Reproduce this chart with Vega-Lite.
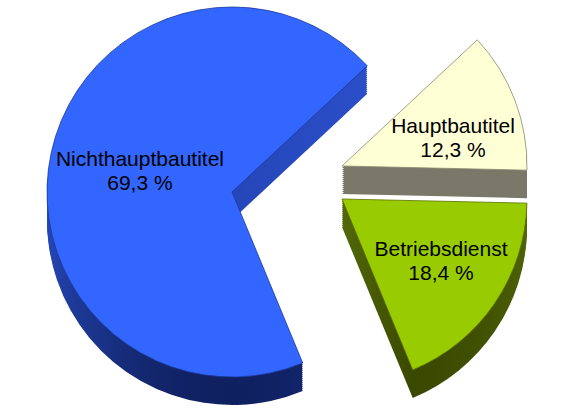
{
  "$schema": "https://vega.github.io/schema/vega-lite/v6.json",
  "width": 561,
  "height": 409,
  "autosize": {"type": "none"},
  "padding": 0,
  "background": "white",
  "config": {
    "view": {"stroke": null},
    "style": {
      "beschriftung": {"font": "Liberation Sans", "fontSize": 21, "lineHeight": 24, "lineBreak": "\n", "align": "center", "baseline": "middle", "fill": "#000000"}
    }
  },
  "data": {
    "values": [
      {"teil": "Hauptbautitel", "anteil": 12.3, "ordnung": 1, "beschriftung": "Hauptbautitel\n12,3 %"},
      {"teil": "Betriebsdienst", "anteil": 18.4, "ordnung": 2, "beschriftung": "Betriebsdienst\n18,4 %"},
      {"teil": "Nichthauptbautitel", "anteil": 69.3, "ordnung": 3, "beschriftung": "Nichthauptbautitel\n69,3 %"}
    ]
  },
  "transform": [
    {"stack": "anteil", "groupby": [], "sort": [{"field": "ordnung", "order": "ascending"}], "as": ["a0", "a1"]}
  ],
  "layer": [
    {
      "transform": [{"filter": "datum.teil === 'Nichthauptbautitel'"}],
      "encoding": {
        "theta": {"field": "a0", "type": "quantitative", "scale": {"domain": [0, 100], "range": [0.8203, 7.1035]}},
        "theta2": {"field": "a1"}
      },
      "layer": [
        {"mark": {"type": "arc", "radius": 185, "xOffset": -48.5, "yOffset": 15.5, "fill": {"gradient": "linear", "x1": 0, "y1": 0, "x2": 0, "y2": 1, "stops": [{"offset": 0, "color": "#2d52d0"}, {"offset": 0.6, "color": "#2444b4"}, {"offset": 0.85, "color": "#1a3388"}, {"offset": 1, "color": "#0f2060"}]}}},
        {"mark": {"type": "arc", "radius": 185, "xOffset": -48.5, "yOffset": 13.5, "fill": {"gradient": "linear", "x1": 0, "y1": 0, "x2": 0, "y2": 1, "stops": [{"offset": 0, "color": "#2d52d0"}, {"offset": 0.6, "color": "#2444b4"}, {"offset": 0.85, "color": "#1a3388"}, {"offset": 1, "color": "#0f2060"}]}}},
        {"mark": {"type": "arc", "radius": 185, "xOffset": -48.5, "yOffset": 11.5, "fill": {"gradient": "linear", "x1": 0, "y1": 0, "x2": 0, "y2": 1, "stops": [{"offset": 0, "color": "#2d52d0"}, {"offset": 0.6, "color": "#2444b4"}, {"offset": 0.85, "color": "#1a3388"}, {"offset": 1, "color": "#0f2060"}]}}},
        {"mark": {"type": "arc", "radius": 185, "xOffset": -48.5, "yOffset": 9.5, "fill": {"gradient": "linear", "x1": 0, "y1": 0, "x2": 0, "y2": 1, "stops": [{"offset": 0, "color": "#2d52d0"}, {"offset": 0.6, "color": "#2444b4"}, {"offset": 0.85, "color": "#1a3388"}, {"offset": 1, "color": "#0f2060"}]}}},
        {"mark": {"type": "arc", "radius": 185, "xOffset": -48.5, "yOffset": 7.5, "fill": {"gradient": "linear", "x1": 0, "y1": 0, "x2": 0, "y2": 1, "stops": [{"offset": 0, "color": "#2d52d0"}, {"offset": 0.6, "color": "#2444b4"}, {"offset": 0.85, "color": "#1a3388"}, {"offset": 1, "color": "#0f2060"}]}}},
        {"mark": {"type": "arc", "radius": 185, "xOffset": -48.5, "yOffset": 5.5, "fill": {"gradient": "linear", "x1": 0, "y1": 0, "x2": 0, "y2": 1, "stops": [{"offset": 0, "color": "#2d52d0"}, {"offset": 0.6, "color": "#2444b4"}, {"offset": 0.85, "color": "#1a3388"}, {"offset": 1, "color": "#0f2060"}]}}},
        {"mark": {"type": "arc", "radius": 185, "xOffset": -48.5, "yOffset": 3.5, "fill": {"gradient": "linear", "x1": 0, "y1": 0, "x2": 0, "y2": 1, "stops": [{"offset": 0, "color": "#2d52d0"}, {"offset": 0.6, "color": "#2444b4"}, {"offset": 0.85, "color": "#1a3388"}, {"offset": 1, "color": "#0f2060"}]}}},
        {"mark": {"type": "arc", "radius": 185, "xOffset": -48.5, "yOffset": 1.5, "fill": {"gradient": "linear", "x1": 0, "y1": 0, "x2": 0, "y2": 1, "stops": [{"offset": 0, "color": "#2d52d0"}, {"offset": 0.6, "color": "#2444b4"}, {"offset": 0.85, "color": "#1a3388"}, {"offset": 1, "color": "#0f2060"}]}}},
        {"mark": {"type": "arc", "radius": 185, "xOffset": -48.5, "yOffset": -0.5, "fill": {"gradient": "linear", "x1": 0, "y1": 0, "x2": 0, "y2": 1, "stops": [{"offset": 0, "color": "#2d52d0"}, {"offset": 0.6, "color": "#2444b4"}, {"offset": 0.85, "color": "#1a3388"}, {"offset": 1, "color": "#0f2060"}]}}},
        {"mark": {"type": "arc", "radius": 185, "xOffset": -48.5, "yOffset": -2.5, "fill": {"gradient": "linear", "x1": 0, "y1": 0, "x2": 0, "y2": 1, "stops": [{"offset": 0, "color": "#2d52d0"}, {"offset": 0.6, "color": "#2444b4"}, {"offset": 0.85, "color": "#1a3388"}, {"offset": 1, "color": "#0f2060"}]}}},
        {"mark": {"type": "arc", "radius": 185, "xOffset": -48.5, "yOffset": -4.5, "fill": {"gradient": "linear", "x1": 0, "y1": 0, "x2": 0, "y2": 1, "stops": [{"offset": 0, "color": "#2d52d0"}, {"offset": 0.6, "color": "#2444b4"}, {"offset": 0.85, "color": "#1a3388"}, {"offset": 1, "color": "#0f2060"}]}}},
        {"mark": {"type": "arc", "radius": 185, "xOffset": -48.5, "yOffset": -6.5, "fill": {"gradient": "linear", "x1": 0, "y1": 0, "x2": 0, "y2": 1, "stops": [{"offset": 0, "color": "#2d52d0"}, {"offset": 0.6, "color": "#2444b4"}, {"offset": 0.85, "color": "#1a3388"}, {"offset": 1, "color": "#0f2060"}]}}},
        {"mark": {"type": "arc", "radius": 185, "xOffset": -48.5, "yOffset": -8.5, "fill": {"gradient": "linear", "x1": 0, "y1": 0, "x2": 0, "y2": 1, "stops": [{"offset": 0, "color": "#2d52d0"}, {"offset": 0.6, "color": "#2444b4"}, {"offset": 0.85, "color": "#1a3388"}, {"offset": 1, "color": "#0f2060"}]}}},
        {"mark": {"type": "arc", "radius": 185, "xOffset": -48.5, "yOffset": -10.5, "fill": {"gradient": "linear", "x1": 0, "y1": 0, "x2": 0, "y2": 1, "stops": [{"offset": 0, "color": "#2d52d0"}, {"offset": 0.6, "color": "#2444b4"}, {"offset": 0.85, "color": "#1a3388"}, {"offset": 1, "color": "#0f2060"}]}}},
        {"mark": {"type": "arc", "radius": 185, "xOffset": -48.5, "yOffset": -12.5, "fill": "#3366ff", "stroke": "#1d3a9c", "strokeWidth": 0.8}}
      ]
    },
    {
      "transform": [{"filter": "datum.teil === 'Hauptbautitel'"}],
      "encoding": {
        "theta": {"field": "a0", "type": "quantitative", "scale": {"domain": [0, 100], "range": [0.8203, 7.1035]}},
        "theta2": {"field": "a1"}
      },
      "layer": [
        {"mark": {"type": "arc", "radius": 185, "xOffset": 61.5, "yOffset": -10.5, "fill": "#7a7869"}},
        {"mark": {"type": "arc", "radius": 185, "xOffset": 61.5, "yOffset": -12.5, "fill": "#7a7869"}},
        {"mark": {"type": "arc", "radius": 185, "xOffset": 61.5, "yOffset": -14.5, "fill": "#7a7869"}},
        {"mark": {"type": "arc", "radius": 185, "xOffset": 61.5, "yOffset": -16.5, "fill": "#7a7869"}},
        {"mark": {"type": "arc", "radius": 185, "xOffset": 61.5, "yOffset": -18.5, "fill": "#7a7869"}},
        {"mark": {"type": "arc", "radius": 185, "xOffset": 61.5, "yOffset": -20.5, "fill": "#7a7869"}},
        {"mark": {"type": "arc", "radius": 185, "xOffset": 61.5, "yOffset": -22.5, "fill": "#7a7869"}},
        {"mark": {"type": "arc", "radius": 185, "xOffset": 61.5, "yOffset": -24.5, "fill": "#7a7869"}},
        {"mark": {"type": "arc", "radius": 185, "xOffset": 61.5, "yOffset": -26.5, "fill": "#7a7869"}},
        {"mark": {"type": "arc", "radius": 185, "xOffset": 61.5, "yOffset": -28.5, "fill": "#7a7869"}},
        {"mark": {"type": "arc", "radius": 185, "xOffset": 61.5, "yOffset": -30.5, "fill": "#7a7869"}},
        {"mark": {"type": "arc", "radius": 185, "xOffset": 61.5, "yOffset": -32.5, "fill": "#7a7869"}},
        {"mark": {"type": "arc", "radius": 185, "xOffset": 61.5, "yOffset": -34.5, "fill": "#7a7869"}},
        {"mark": {"type": "arc", "radius": 185, "xOffset": 61.5, "yOffset": -36.5, "fill": "#7a7869"}},
        {"mark": {"type": "arc", "radius": 185, "xOffset": 61.5, "yOffset": -38.5, "fill": "#ffffd6", "stroke": "#8a8870", "strokeWidth": 0.8}}
      ]
    },
    {
      "transform": [{"filter": "datum.teil === 'Betriebsdienst'"}],
      "encoding": {
        "theta": {"field": "a0", "type": "quantitative", "scale": {"domain": [0, 100], "range": [0.8203, 7.1035]}},
        "theta2": {"field": "a1"}
      },
      "layer": [
        {"mark": {"type": "arc", "radius": 185, "xOffset": 61.5, "yOffset": 22.5, "fill": {"gradient": "linear", "x1": 0, "y1": 0, "x2": 0, "y2": 1, "stops": [{"offset": 0, "color": "#52680a"}, {"offset": 1, "color": "#3a4800"}]}}},
        {"mark": {"type": "arc", "radius": 185, "xOffset": 61.5, "yOffset": 20.5, "fill": {"gradient": "linear", "x1": 0, "y1": 0, "x2": 0, "y2": 1, "stops": [{"offset": 0, "color": "#52680a"}, {"offset": 1, "color": "#3a4800"}]}}},
        {"mark": {"type": "arc", "radius": 185, "xOffset": 61.5, "yOffset": 18.5, "fill": {"gradient": "linear", "x1": 0, "y1": 0, "x2": 0, "y2": 1, "stops": [{"offset": 0, "color": "#52680a"}, {"offset": 1, "color": "#3a4800"}]}}},
        {"mark": {"type": "arc", "radius": 185, "xOffset": 61.5, "yOffset": 16.5, "fill": {"gradient": "linear", "x1": 0, "y1": 0, "x2": 0, "y2": 1, "stops": [{"offset": 0, "color": "#52680a"}, {"offset": 1, "color": "#3a4800"}]}}},
        {"mark": {"type": "arc", "radius": 185, "xOffset": 61.5, "yOffset": 14.5, "fill": {"gradient": "linear", "x1": 0, "y1": 0, "x2": 0, "y2": 1, "stops": [{"offset": 0, "color": "#52680a"}, {"offset": 1, "color": "#3a4800"}]}}},
        {"mark": {"type": "arc", "radius": 185, "xOffset": 61.5, "yOffset": 12.5, "fill": {"gradient": "linear", "x1": 0, "y1": 0, "x2": 0, "y2": 1, "stops": [{"offset": 0, "color": "#52680a"}, {"offset": 1, "color": "#3a4800"}]}}},
        {"mark": {"type": "arc", "radius": 185, "xOffset": 61.5, "yOffset": 10.5, "fill": {"gradient": "linear", "x1": 0, "y1": 0, "x2": 0, "y2": 1, "stops": [{"offset": 0, "color": "#52680a"}, {"offset": 1, "color": "#3a4800"}]}}},
        {"mark": {"type": "arc", "radius": 185, "xOffset": 61.5, "yOffset": 8.5, "fill": {"gradient": "linear", "x1": 0, "y1": 0, "x2": 0, "y2": 1, "stops": [{"offset": 0, "color": "#52680a"}, {"offset": 1, "color": "#3a4800"}]}}},
        {"mark": {"type": "arc", "radius": 185, "xOffset": 61.5, "yOffset": 6.5, "fill": {"gradient": "linear", "x1": 0, "y1": 0, "x2": 0, "y2": 1, "stops": [{"offset": 0, "color": "#52680a"}, {"offset": 1, "color": "#3a4800"}]}}},
        {"mark": {"type": "arc", "radius": 185, "xOffset": 61.5, "yOffset": 4.5, "fill": {"gradient": "linear", "x1": 0, "y1": 0, "x2": 0, "y2": 1, "stops": [{"offset": 0, "color": "#52680a"}, {"offset": 1, "color": "#3a4800"}]}}},
        {"mark": {"type": "arc", "radius": 185, "xOffset": 61.5, "yOffset": 2.5, "fill": {"gradient": "linear", "x1": 0, "y1": 0, "x2": 0, "y2": 1, "stops": [{"offset": 0, "color": "#52680a"}, {"offset": 1, "color": "#3a4800"}]}}},
        {"mark": {"type": "arc", "radius": 185, "xOffset": 61.5, "yOffset": 0.5, "fill": {"gradient": "linear", "x1": 0, "y1": 0, "x2": 0, "y2": 1, "stops": [{"offset": 0, "color": "#52680a"}, {"offset": 1, "color": "#3a4800"}]}}},
        {"mark": {"type": "arc", "radius": 185, "xOffset": 61.5, "yOffset": -1.5, "fill": {"gradient": "linear", "x1": 0, "y1": 0, "x2": 0, "y2": 1, "stops": [{"offset": 0, "color": "#52680a"}, {"offset": 1, "color": "#3a4800"}]}}},
        {"mark": {"type": "arc", "radius": 185, "xOffset": 61.5, "yOffset": -3.5, "fill": {"gradient": "linear", "x1": 0, "y1": 0, "x2": 0, "y2": 1, "stops": [{"offset": 0, "color": "#52680a"}, {"offset": 1, "color": "#3a4800"}]}}},
        {"mark": {"type": "arc", "radius": 185, "xOffset": 61.5, "yOffset": -5.5, "fill": "#99cc00", "stroke": "#5a7000", "strokeWidth": 0.8}}
      ]
    },
    {
      "mark": {"type": "text", "radius": 94.2, "xOffset": -48.5, "yOffset": -24.4, "style": "beschriftung"},
      "encoding": {
        "theta": {"field": "anteil", "type": "quantitative", "stack": true, "scale": {"domain": [0, 100], "range": [0.8203, 7.1035]}},
        "order": {"field": "ordnung", "type": "quantitative"},
        "text": {"condition": {"test": "datum.teil === 'Nichthauptbautitel'", "field": "beschriftung"}, "value": ""}
      }
    },
    {
      "mark": {"type": "text", "radius": 118.8, "xOffset": 61.5, "yOffset": -35.1, "style": "beschriftung"},
      "encoding": {
        "theta": {"field": "anteil", "type": "quantitative", "stack": true, "scale": {"domain": [0, 100], "range": [0.8203, 7.1035]}},
        "order": {"field": "ordnung", "type": "quantitative"},
        "text": {"condition": {"test": "datum.teil === 'Hauptbautitel'", "field": "beschriftung"}, "value": ""}
      }
    },
    {
      "mark": {"type": "text", "radius": 120, "xOffset": 61.5, "yOffset": -22.3, "style": "beschriftung"},
      "encoding": {
        "theta": {"field": "anteil", "type": "quantitative", "stack": true, "scale": {"domain": [0, 100], "range": [0.8203, 7.1035]}},
        "order": {"field": "ordnung", "type": "quantitative"},
        "text": {"condition": {"test": "datum.teil === 'Betriebsdienst'", "field": "beschriftung"}, "value": ""}
      }
    }
  ]
}
